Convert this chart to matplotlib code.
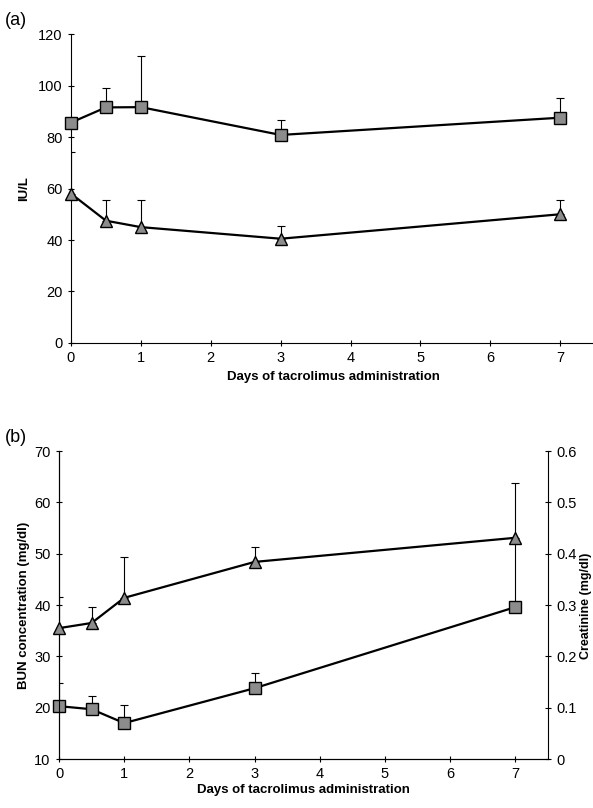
import numpy as np
import matplotlib.pyplot as plt

plt.rcParams['font.family'] = ['Liberation Sans', 'DejaVu Sans']

# panel (a) - serum enzymes (IU/L)
days = [0, 0.5, 1, 3, 7]
a_sq = [85.6, 91.5, 91.6, 80.8, 87.5]
a_sq_up = [85.6, 99.2, 111.6, 86.8, 95.0]
a_tri = [58.0, 47.5, 45.0, 40.5, 50.0]
a_tri_up = [74.0, 55.5, 55.5, 45.3, 55.4]

# panel (b) - BUN (left axis, squares) and creatinine (right axis, triangles)
bun = [20.3, 19.7, 17.0, 23.8, 39.6]
bun_up = [24.8, 22.3, 20.5, 26.8, 52.0]
cre = [0.255, 0.265, 0.314, 0.384, 0.431]
cre_up = [0.316, 0.296, 0.393, 0.413, 0.538]

grey = '#8c8c8c'
fig = plt.figure(figsize=(5.93, 8.08), dpi=100)


def draw(ax, y, up, marker):
    y = np.array(y)
    err = [np.zeros(len(y)), np.array(up) - y]
    ax.errorbar(days, y, yerr=err, fmt='none', ecolor='black', elinewidth=0.8,
                capsize=3, capthick=0.8, zorder=2)
    ax.plot(days, y, color='black', lw=1.6, marker=marker, markersize=8.5,
            markerfacecolor=grey, markeredgecolor='black', markeredgewidth=1.0,
            zorder=3, clip_on=False)


def style(ax):
    ax.spines['top'].set_visible(False)
    ax.spines['right'].set_visible(False)
    ax.tick_params(direction='inout', length=5, width=0.8, labelsize=10.5)


# ---- (a)
ax1 = fig.add_axes([0.1197, 0.5755, 0.884, 0.3824])
draw(ax1, a_sq, a_sq_up, 's')
draw(ax1, a_tri, a_tri_up, '^')
ax1.set_xlim(0, 7.5)
ax1.set_ylim(0, 120)
ax1.set_xticks(range(8))
ax1.set_yticks(range(0, 121, 20))
style(ax1)
ax1.set_ylabel('IU/L', fontsize=9.5, fontweight='bold', labelpad=6)
ax1.set_xlabel('Days of tacrolimus administration', fontsize=9.5, fontweight='bold', labelpad=4)
fig.text(0.008, 0.975, '(a)', fontsize=13, va='center')

# ---- (b)
ax2 = fig.add_axes([0.0995, 0.0606, 0.8246, 0.3812])
draw(ax2, bun, bun_up, 's')
ax2.set_xlim(0, 7.5)
ax2.set_ylim(10, 70)
ax2.set_xticks(range(8))
ax2.set_yticks(range(10, 71, 10))
style(ax2)
ax2.set_ylabel('BUN concentration (mg/dl)', fontsize=9.5, fontweight='bold', labelpad=3)
ax2.set_xlabel('Days of tacrolimus administration', fontsize=9.5, fontweight='bold', labelpad=2)

ax3 = ax2.twinx()
draw(ax3, cre, cre_up, '^')
ax3.set_ylim(0, 0.6)
ax3.set_yticks(np.arange(0, 0.61, 0.1))
ax3.set_yticklabels(['0', '0.1', '0.2', '0.3', '0.4', '0.5', '0.6'])
ax3.spines['top'].set_visible(False)
ax3.tick_params(direction='inout', length=5, width=0.8, labelsize=10.5)
fig.text(0.9875, 0.25, 'Creatinine (mg/dl)', fontsize=9, fontweight='bold',
         rotation=90, ha='center', va='center')
fig.text(0.008, 0.458, '(b)', fontsize=13, va='center')

fig.savefig('out.png', dpi=100)
